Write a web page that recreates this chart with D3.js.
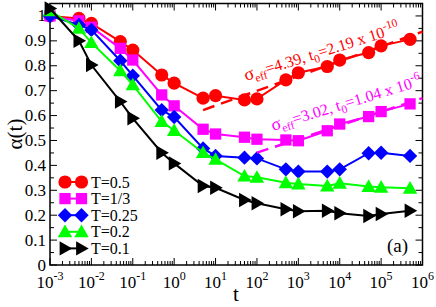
<!DOCTYPE html>
<html>
<head>
<meta charset="utf-8">
<script src="https://cdn.jsdelivr.net/npm/d3@7"></script>
<style>
  body { margin: 0; background: #fff; }
  svg text { font-family: "Times New Roman", "Liberation Serif", "DejaVu Serif", "Noto Serif", serif; }
</style>
</head>
<body>
<svg id="chart" width="436" height="307"></svg>
<script>
// time points (log axis)
const times = [1e-3, 5e-3, 1e-2, 5e-2, 1e-1, 5e-1, 1, 5, 10, 50, 100, 500, 1e3, 5e3, 1e4, 5e4, 1e5, 5e5];

// alpha(t) per temperature
const alphaT05  = [1.0, 0.99, 0.97, 0.897, 0.863, 0.763, 0.73, 0.67, 0.68, 0.663, 0.667, 0.743, 0.772, 0.797, 0.823, 0.853, 0.88, 0.906];
const alphaT033 = [1.0, 0.98, 0.955, 0.87, 0.823, 0.683, 0.639, 0.545, 0.526, 0.513, 0.505, 0.502, 0.499, 0.539, 0.566, 0.596, 0.616, 0.647];
const alphaT025 = [1.0, 0.964, 0.944, 0.82, 0.76, 0.622, 0.594, 0.468, 0.438, 0.431, 0.428, 0.384, 0.375, 0.375, 0.384, 0.449, 0.451, 0.438];
const alphaT02  = [1.02, 0.95, 0.893, 0.78, 0.723, 0.576, 0.54, 0.451, 0.424, 0.357, 0.352, 0.33, 0.325, 0.317, 0.328, 0.315, 0.312, 0.308];
const alphaT01  = [1.03, 0.9, 0.803, 0.656, 0.589, 0.451, 0.408, 0.317, 0.31, 0.261, 0.248, 0.224, 0.216, 0.218, 0.208, 0.197, 0.205, 0.218];

const seriesNames = ["T=0.5", "T=1/3", "T=0.25", "T=0.2", "T=0.1"];
const seriesColors = ["#ff0000", "#ff00ff", "#0000ff", "#00ff00", "#000000"];
const seriesMarkers = ["circle", "square", "diamond", "triangleUp", "triangleRight"];
const seriesValues = [alphaT05, alphaT033, alphaT025, alphaT02, alphaT01];

// fitted curves (dashed), end points
const fitRedT = [5, 1e6];
const fitRedA = [0.622, 0.937];
const fitMagT = [100, 1e6];
const fitMagA = [0.451, 0.67];

const yTicks = [0, 0.1, 0.2, 0.3, 0.4, 0.5, 0.6, 0.7, 0.8, 0.9, 1];
const xDecades = [-3, -2, -1, 0, 1, 2, 3, 4, 5, 6];

const svg = d3.select("#chart");
const plotL = 50, plotR = 422.5, plotT = 3.5, plotB = 265;

const x = d3.scaleLog().domain([1e-3, 1e6]).range([plotL, plotR]);
const y = d3.scaleLinear().domain([0, 1.05]).range([plotB, plotT]);

function markerPath(type, s) {
  const p = d3.path();
  if (type === "circle") {
    p.arc(0, 0, s * 0.55, 0, 2 * Math.PI);
  } else if (type === "square") {
    const h = s * 0.47;
    p.rect(-h, -h, 2 * h, 2 * h);
  } else if (type === "diamond") {
    const h = s * 0.6;
    p.moveTo(0, -h); p.lineTo(h, 0); p.lineTo(0, h); p.lineTo(-h, 0); p.closePath();
  } else if (type === "triangleUp") {
    const h = s * 0.6;
    p.moveTo(0, -h); p.lineTo(h, h * 0.75); p.lineTo(-h, h * 0.75); p.closePath();
  } else {
    const h = s * 0.6;
    p.moveTo(h, 0); p.lineTo(-h * 0.75, h); p.lineTo(-h * 0.75, -h); p.closePath();
  }
  return p.toString();
}

// ticks: inward on all four sides
const tickG = svg.append("g").attr("stroke", "#000").attr("stroke-width", 1);
const minorY = d3.range(0, 21).map(i => i * 0.05);
minorY.forEach(v => {
  const major = Math.abs(v * 10 - Math.round(v * 10)) < 1e-6;
  const len = major ? 7 : 4;
  tickG.append("line").attr("x1", plotL).attr("x2", plotL + len).attr("y1", y(v)).attr("y2", y(v));
  tickG.append("line").attr("x1", plotR).attr("x2", plotR - len).attr("y1", y(v)).attr("y2", y(v));
});
xDecades.forEach(d => {
  for (let m = 1; m <= 9; m++) {
    const v = m * Math.pow(10, d);
    if (v > 1e6 * 1.0001) continue;
    const len = m === 1 ? 7 : 4;
    tickG.append("line").attr("x1", x(v)).attr("x2", x(v)).attr("y1", plotB).attr("y2", plotB - len);
    tickG.append("line").attr("x1", x(v)).attr("x2", x(v)).attr("y1", plotT).attr("y2", plotT + len);
  }
});

// frame
svg.append("rect")
  .attr("x", plotL).attr("y", plotT)
  .attr("width", plotR - plotL).attr("height", plotB - plotT)
  .attr("fill", "none").attr("stroke", "#000").attr("stroke-width", 1.5);

// y tick labels
svg.append("g").selectAll("text").data(yTicks).enter().append("text")
  .attr("x", plotL - 4)
  .attr("y", d => y(d) + 5.5)
  .attr("text-anchor", "end")
  .attr("font-size", 17)
  .text(d => d3.format("")(d));

// x tick labels: 10^n
const xl = svg.append("g").selectAll("text").data(xDecades).enter().append("text")
  .attr("x", d => x(Math.pow(10, d)))
  .attr("y", 288)
  .attr("text-anchor", "middle")
  .attr("font-size", 17);
xl.append("tspan").text("10");
xl.append("tspan").attr("dy", -8).attr("font-size", 12).text(d => d < 0 ? "-" + (-d) : d);

// axis titles
svg.append("text").attr("x", 236).attr("y", 301).attr("text-anchor", "middle")
  .attr("font-size", 21).text("t");
svg.append("text").attr("transform", "translate(22,134) rotate(-90)")
  .attr("text-anchor", "middle").attr("font-size", 21).text("α(t)");

// series
const line = d3.line().x(d => x(d[0])).y(d => y(d[1]));
seriesValues.forEach((vals, i) => {
  const pts = times.map((t, j) => [t, vals[j]]);
  const g = svg.append("g");
  g.append("path").attr("d", line(pts))
    .attr("fill", "none").attr("stroke", seriesColors[i]).attr("stroke-width", 2);
  g.selectAll("path.m").data(pts).enter().append("path")
    .attr("class", "m")
    .attr("transform", d => `translate(${x(d[0])},${y(d[1])})`)
    .attr("d", markerPath(seriesMarkers[i], 12))
    .attr("fill", seriesColors[i]);
});

// dashed fits
[[fitRedT, fitRedA, "#ff0000"], [fitMagT, fitMagA, "#ff00ff"]].forEach(([ts, as, c]) => {
  svg.append("path")
    .attr("d", line(ts.map((t, j) => [t, as[j]])))
    .attr("fill", "none").attr("stroke", c).attr("stroke-width", 2.5)
    .attr("stroke-dasharray", "12,7");
});

// fit annotations
function fitLabel(px, py, angle, color, sig, t0, expo) {
  const t = svg.append("text")
    .attr("transform", `translate(${px},${py}) rotate(${angle})`)
    .attr("font-size", 16).attr("fill", color);
  t.append("tspan").attr("font-size", 18).text("σ");
  t.append("tspan").attr("font-size", 11.5).attr("dy", 4).text("eff");
  t.append("tspan").attr("dy", -4).text("=" + sig + ", t");
  t.append("tspan").attr("font-size", 11.5).attr("dy", 4).text("0");
  t.append("tspan").attr("dy", -4).text("=" + t0 + " x 10");
  t.append("tspan").attr("font-size", 11.5).attr("dy", -7).text(expo);
}
fitLabel(246, 81, -17.5, "#ff0000", "4.39", "2.19", "-10");
fitLabel(273, 131, -17, "#ff00ff", "3.02", "1.04", "-6");

// legend
const legend = svg.append("g");
seriesNames.forEach((name, i) => {
  const ly = 182 + i * 16.6;
  legend.append("line").attr("x1", 65).attr("x2", 81.5).attr("y1", ly).attr("y2", ly)
    .attr("stroke", seriesColors[i]).attr("stroke-width", 2);
  [65, 81.5].forEach(mx => {
    legend.append("path").attr("transform", `translate(${mx},${ly})`)
      .attr("d", markerPath(seriesMarkers[i], 12)).attr("fill", seriesColors[i]);
  });
  legend.append("text").attr("x", 91).attr("y", ly + 5.5).attr("font-size", 16).text(name);
});

svg.append("text").attr("x", 387).attr("y", 252).attr("font-size", 19).text("(a)");
</script>
</body>
</html>
